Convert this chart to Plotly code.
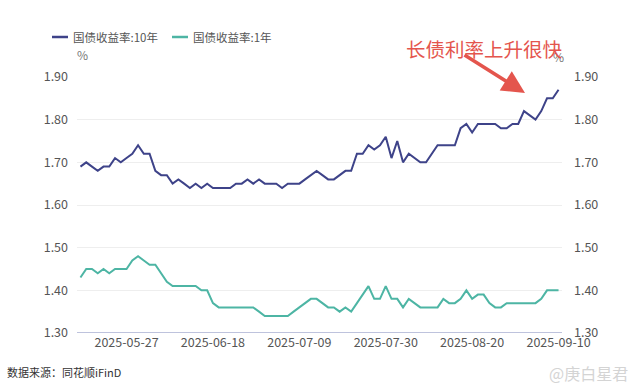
import pandas as pd
import plotly.graph_objects as go

# trading days 2025-05-15 .. 2025-09-10 (China, Dragon Boat holiday 06-02 excluded)
holidays = ["2025-06-02"]
dates = [d.strftime("%Y-%m-%d") for d in pd.bdate_range("2025-05-15", "2025-09-10") if d.strftime("%Y-%m-%d") not in holidays]

y10 = [1.69, 1.70, 1.69, 1.68, 1.69, 1.69, 1.71, 1.70, 1.71, 1.72,
       1.74, 1.72, 1.72, 1.68, 1.67, 1.67, 1.65, 1.66, 1.65, 1.64,
       1.65, 1.64, 1.65, 1.64, 1.64, 1.64, 1.64, 1.65, 1.65, 1.66,
       1.65, 1.66, 1.65, 1.65, 1.65, 1.64, 1.65, 1.65, 1.65, 1.66,
       1.67, 1.68, 1.67, 1.66, 1.66, 1.67, 1.68, 1.68, 1.72, 1.72,
       1.74, 1.73, 1.74, 1.76, 1.71, 1.75, 1.70, 1.72, 1.71, 1.70,
       1.70, 1.72, 1.74, 1.74, 1.74, 1.74, 1.78, 1.79, 1.77, 1.79,
       1.79, 1.79, 1.79, 1.78, 1.78, 1.79, 1.79, 1.82, 1.81, 1.80,
       1.82, 1.85, 1.85, 1.87]

y1 = [1.43, 1.45, 1.45, 1.44, 1.45, 1.44, 1.45, 1.45, 1.45, 1.47,
      1.48, 1.47, 1.46, 1.46, 1.44, 1.42, 1.41, 1.41, 1.41, 1.41,
      1.41, 1.40, 1.40, 1.37, 1.36, 1.36, 1.36, 1.36, 1.36, 1.36,
      1.36, 1.35, 1.34, 1.34, 1.34, 1.34, 1.34, 1.35, 1.36, 1.37,
      1.38, 1.38, 1.37, 1.36, 1.36, 1.35, 1.36, 1.35, 1.37, 1.39,
      1.41, 1.38, 1.38, 1.41, 1.38, 1.38, 1.36, 1.38, 1.37, 1.36,
      1.36, 1.36, 1.36, 1.38, 1.37, 1.37, 1.38, 1.40, 1.38, 1.39,
      1.39, 1.37, 1.36, 1.36, 1.37, 1.37, 1.37, 1.37, 1.37, 1.37,
      1.38, 1.40, 1.40, 1.40]

series_names = ["国债收益率:10年", "国债收益率:1年"]
tick_dates = ["2025-05-27", "2025-06-18", "2025-07-09", "2025-07-30", "2025-08-20", "2025-09-10"]
y_ticks = [1.30, 1.40, 1.50, 1.60, 1.70, 1.80, 1.90]

FONT = "Noto Sans CJK SC, Noto Sans, sans-serif"
C10 = "#3e4389"
C1 = "#4db5a4"
TICK = dict(size=12.5, color="#555555")

fig = go.Figure()
fig.add_trace(go.Scatter(x=dates, y=y10, mode="lines", name=series_names[0],
                         line=dict(color=C10, width=2), showlegend=False))
fig.add_trace(go.Scatter(x=dates, y=y1, mode="lines", name=series_names[1],
                         line=dict(color=C1, width=2), showlegend=False))
# carrier for the right-hand axis (invisible)
fig.add_trace(go.Scatter(x=dates, y=y10, mode="lines", yaxis="y2", opacity=0,
                         line=dict(width=0), hoverinfo="skip", showlegend=False))

L, R, T, B = 77, 78, 77, 56
fig.update_layout(
    width=640, height=389,
    margin=dict(l=L, r=R, t=T, b=B),
    paper_bgcolor="white", plot_bgcolor="white",
    font=dict(family=FONT, size=12, color="#555555"),
    showlegend=False,
    xaxis=dict(type="category", range=[-0.6, 83.6], tickmode="array",
               tickvals=tick_dates, ticktext=tick_dates, showgrid=False,
               showline=False, ticks="", zeroline=False, tickfont=TICK),
    yaxis=dict(range=[1.30, 1.90], tickmode="array", tickvals=y_ticks,
               tickformat=".2f", showgrid=True, gridcolor="#eeeeee", gridwidth=1,
               zeroline=False, showline=False, ticks="", ticklabelstandoff=8,
               tickfont=TICK),
    yaxis2=dict(range=[1.30, 1.90], tickmode="array", tickvals=y_ticks,
                tickformat=".2f", overlaying="y", side="right", showgrid=False,
                zeroline=False, showline=False, ticks="", ticklabelstandoff=11,
                tickfont=TICK),
)

# bottom axis line at 1.30
fig.add_shape(type="line", xref="paper", yref="y", x0=0, x1=1, y0=1.30, y1=1.30,
              line=dict(color="#a9afd2", width=1.5))

W = 640 - L - R
H = 389 - T - B
def px(x):
    return (x - L) / W
def py(y):
    return (389 - B - y) / H

# legend (drawn by hand to match the short line samples)
for (x0, x1, col) in [(52, 68, C10), (172, 188, C1)]:
    fig.add_shape(type="line", xref="paper", yref="paper", x0=px(x0), x1=px(x1),
                  y0=py(37), y1=py(37), line=dict(color=col, width=2.5))

ann = [
    dict(text=series_names[0], x=px(71), y=py(37), xanchor="left", yanchor="middle",
         font=dict(size=11.5, color="#555555")),
    dict(text=series_names[1], x=px(191), y=py(37), xanchor="left", yanchor="middle",
         font=dict(size=11.5, color="#555555")),
    dict(text="%", x=px(82), y=py(54), xanchor="center", yanchor="middle",
         font=dict(size=12, color="#777777")),
    dict(text="%", x=px(558), y=py(56), xanchor="center", yanchor="middle",
         font=dict(size=12, color="#777777")),
    dict(text="数据来源：同花顺iFinD", x=px(5), y=py(372), xanchor="left", yanchor="middle",
         font=dict(size=11, color="#333333")),
    dict(text="@庚白星君", x=px(630), y=py(373), xanchor="right", yanchor="middle",
         font=dict(size=16, color="#d4d4d4")),
    dict(text="", x=px(525), y=py(93), ax=-62, ay=-39, showarrow=True,
         arrowhead=2, arrowsize=1.3, arrowwidth=3.5, arrowcolor="#e4554d"),
    dict(text="长债利率上升很快", x=px(484), y=py(48), xanchor="center", yanchor="middle",
         font=dict(size=19.5, color="#e4554d")),
]
for a in ann:
    a.setdefault("showarrow", False)
    fig.add_annotation(xref="paper", yref="paper", **a)

fig.write_html("out.html", config={"displayModeBar": False},
               post_script="document.body.style.margin='0';")
